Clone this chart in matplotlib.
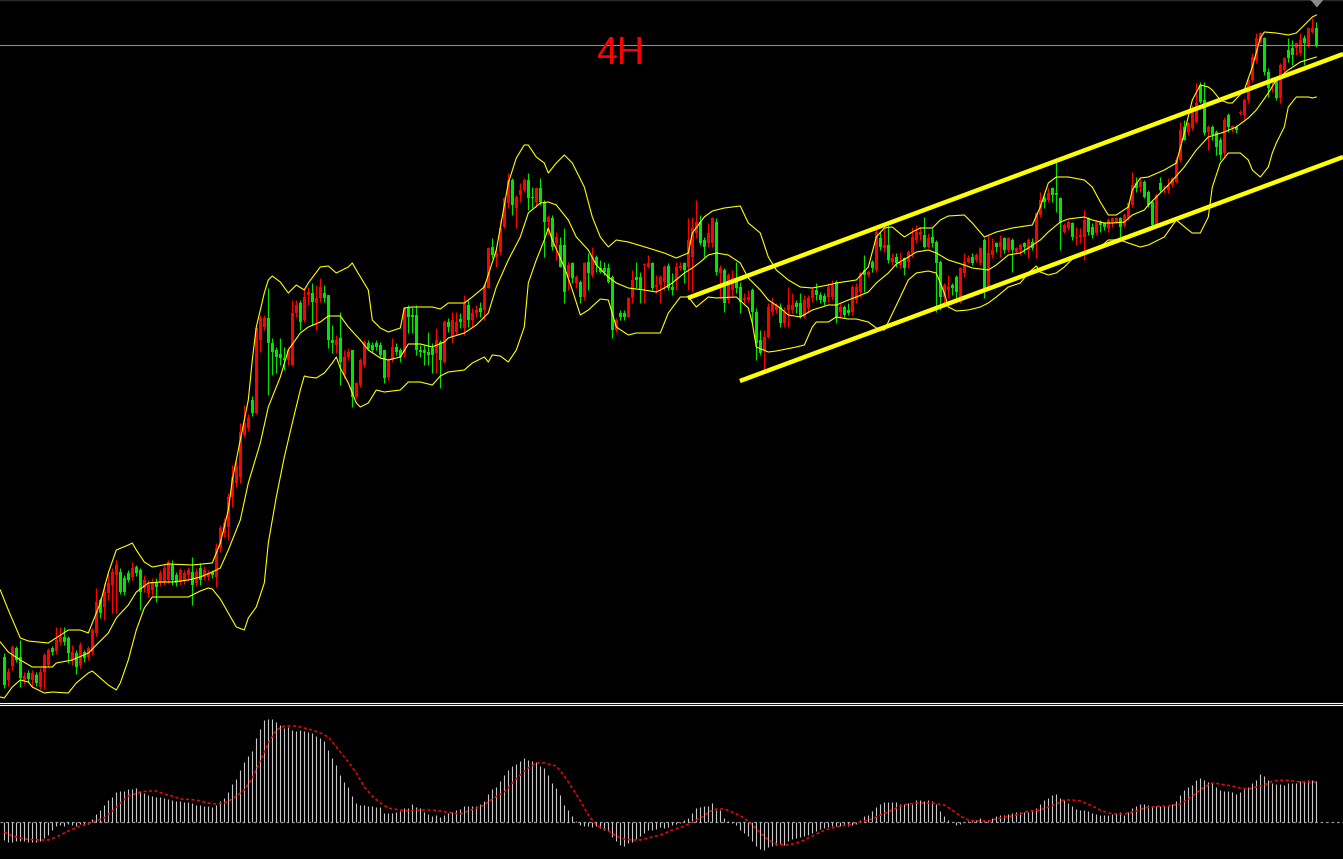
"""
4H candlestick chart: Bollinger bands, a hand drawn rising channel and a MACD panel.
"""
from __future__ import annotations

import matplotlib

matplotlib.use("Agg")
import matplotlib.pyplot as plt
import numpy as np

W, H = 1343, 859

# candles, one value per 4H bar (arbitrary price points)
OPEN = [
    343, 320, 334, 352, 343, 320, 327, 320, 325, 313,
    328, 335, 352, 349, 358, 363, 362, 340, 347, 335,
    348, 343, 348, 367, 400, 393, 407, 415, 425, 428,
    422, 427, 423, 433, 430, 412, 407, 410, 418, 417,
    418, 420, 435, 425, 418, 420, 425, 428, 417, 432,
    423, 423, 428, 423, 452, 467, 473, 503, 517, 523,
    565, 572, 600, 587, 660, 673, 682, 657, 650, 646,
    642, 640, 635, 687, 697, 680, 705, 707, 697, 702,
    707, 705, 660, 655, 662, 625, 643, 650, 603, 615,
    635, 657, 655, 657, 655, 650, 623, 640, 653, 650,
    647, 692, 685, 685, 650, 650, 648, 652, 647, 658,
    638, 678, 663, 668, 681, 672, 695, 680, 687, 692,
    690, 712, 753, 743, 748, 773, 797, 820, 792, 805,
    810, 820, 803, 798, 812, 797, 778, 782, 757, 755,
    755, 723, 737, 717, 718, 703, 738, 725, 743, 732,
    732, 732, 723, 670, 687, 687, 683, 702, 723, 723,
    735, 733, 737, 713, 715, 718, 734, 713, 720, 732,
    737, 733, 743, 767, 778, 760, 757, 757, 778, 727,
    730, 700, 710, 720, 713, 700, 700, 710, 688, 660,
    650, 663, 688, 690, 693, 677, 690, 690, 697, 697,
    683, 692, 702, 710, 705, 704, 703, 703, 718, 688,
    693, 690, 688, 700, 708, 730, 725, 738, 730, 762,
    752, 755, 738, 743, 735, 742, 738, 747, 760, 765,
    765, 753, 763, 758, 738, 703, 710, 715, 723, 703,
    727, 738, 743, 740, 737, 760, 712, 745, 757, 753,
    762, 750, 760, 748, 750, 757, 750, 758, 758, 785,
    802, 800, 812, 807, 802, 768, 772, 777, 762, 763,
    763, 782, 773, 767, 778, 777, 772, 778, 778, 782,
    775, 782, 795, 817, 813, 818, 808, 798, 775, 817,
    812, 810, 815, 818, 840, 873, 868, 872, 878, 915,
    900, 868, 873, 868, 860, 847, 885, 872, 873, 887,
    885, 900, 920, 940, 958, 962, 928, 917, 922, 902,
    930, 950, 952, 952, 947, 962, 955, 968, 972,
]
HIGH = [
    347, 332, 355, 354, 360, 328, 330, 330, 328, 332,
    347, 352, 354, 373, 373, 373, 364, 355, 350, 358,
    350, 354, 372, 412, 402, 417, 427, 432, 440, 432,
    425, 430, 438, 435, 432, 425, 420, 422, 422, 430,
    435, 440, 440, 428, 432, 430, 433, 443, 432, 437,
    434, 430, 430, 457, 475, 482, 507, 535, 540, 577,
    595, 586, 604, 673, 685, 685, 712, 662, 653, 662,
    653, 653, 700, 700, 700, 712, 713, 717, 715, 722,
    715, 705, 675, 665, 688, 650, 652, 650, 618, 642,
    660, 660, 658, 660, 658, 650, 642, 662, 657, 652,
    693, 695, 693, 695, 655, 655, 668, 657, 672, 660,
    680, 682, 688, 688, 687, 705, 700, 692, 695, 698,
    717, 753, 762, 750, 780, 803, 827, 822, 805, 817,
    822, 827, 813, 813, 822, 800, 785, 785, 768, 763,
    772, 738, 738, 725, 720, 738, 747, 753, 745, 740,
    738, 737, 725, 682, 690, 690, 703, 730, 738, 728,
    737, 745, 738, 725, 725, 735, 737, 727, 738, 738,
    738, 782, 783, 800, 785, 763, 777, 783, 782, 735,
    732, 727, 730, 738, 718, 707, 710, 712, 692, 670,
    670, 697, 703, 697, 697, 693, 713, 707, 700, 707,
    705, 705, 713, 717, 708, 707, 717, 720, 720, 697,
    695, 697, 715, 717, 728, 745, 730, 740, 772, 768,
    773, 775, 747, 747, 748, 743, 750, 773, 775, 773,
    783, 767, 772, 760, 740, 717, 725, 717, 725, 733,
    747, 745, 747, 747, 753, 762, 765, 762, 758, 765,
    763, 763, 762, 753, 757, 758, 762, 762, 788, 808,
    805, 812, 813, 838, 803, 777, 780, 778, 773, 772,
    790, 783, 777, 780, 780, 778, 782, 783, 783, 783,
    787, 798, 828, 823, 822, 820, 810, 800, 807, 823,
    815, 822, 823, 843, 878, 880, 878, 895, 917, 918,
    918, 875, 875, 870, 863, 883, 887, 875, 875, 890,
    902, 923, 947, 967, 968, 963, 932, 923, 923, 937,
    943, 962, 960, 958, 967, 965, 973, 982, 978,
]
LOW = [
    312, 314, 330, 338, 313, 316, 318, 313, 314, 311,
    311, 333, 345, 346, 355, 355, 337, 335, 326, 332,
    338, 340, 345, 364, 382, 380, 400, 387, 387, 406,
    405, 418, 420, 424, 390, 408, 403, 405, 398, 414,
    415, 417, 415, 414, 415, 416, 420, 395, 414, 415,
    420, 420, 422, 413, 448, 463, 460, 493, 513, 517,
    563, 569, 584, 586, 648, 670, 605, 625, 627, 635,
    630, 635, 634, 683, 670, 678, 695, 675, 670, 698,
    698, 652, 647, 647, 615, 622, 640, 593, 602, 613,
    633, 650, 648, 650, 642, 617, 620, 638, 645, 638,
    643, 667, 667, 645, 643, 635, 635, 627, 627, 612,
    637, 668, 657, 665, 672, 665, 673, 673, 683, 683,
    680, 712, 742, 733, 745, 772, 792, 785, 772, 798,
    808, 790, 792, 793, 795, 743, 765, 750, 740, 733,
    697, 710, 717, 712, 697, 700, 710, 723, 728, 727,
    725, 717, 662, 668, 680, 680, 683, 697, 712, 697,
    697, 732, 710, 707, 697, 710, 710, 705, 710, 730,
    717, 710, 708, 762, 755, 743, 753, 753, 725, 702,
    688, 697, 703, 707, 687, 697, 698, 677, 640, 645,
    628, 662, 685, 687, 673, 673, 673, 687, 687, 682,
    682, 688, 698, 700, 697, 695, 698, 700, 677, 682,
    683, 685, 685, 697, 703, 708, 723, 728, 728, 750,
    748, 737, 735, 733, 732, 725, 732, 743, 757, 760,
    752, 752, 753, 688, 690, 697, 702, 705, 702, 697,
    723, 737, 735, 738, 735, 702, 712, 742, 748, 743,
    747, 748, 728, 747, 745, 747, 742, 750, 742, 783,
    792, 798, 798, 788, 750, 767, 770, 760, 755, 757,
    740, 765, 762, 765, 768, 770, 768, 773, 777, 763,
    773, 780, 793, 808, 808, 802, 793, 773, 773, 808,
    807, 807, 813, 817, 838, 860, 865, 870, 877, 897,
    865, 850, 860, 845, 840, 843, 868, 868, 867, 885,
    880, 897, 918, 937, 957, 925, 903, 908, 900, 897,
    925, 938, 935, 945, 945, 935, 953, 967, 953,
]
CLOSE = [
    315, 328, 353, 340, 322, 324, 321, 327, 317, 328,
    345, 350, 348, 360, 363, 358, 347, 348, 333, 355,
    342, 352, 370, 398, 387, 408, 417, 428, 435, 408,
    408, 420, 432, 427, 408, 420, 415, 418, 413, 427,
    432, 438, 420, 417, 430, 427, 430, 415, 428, 420,
    430, 427, 425, 452, 472, 477, 503, 523, 533, 568,
    577, 582, 587, 672, 682, 682, 657, 648, 643, 642,
    640, 650, 687, 695, 678, 703, 708, 698, 702, 713,
    702, 660, 657, 660, 638, 643, 648, 603, 617, 640,
    658, 652, 650, 653, 645, 622, 640, 653, 648, 643,
    692, 683, 683, 650, 648, 647, 645, 645, 660, 640,
    678, 673, 680, 678, 678, 697, 680, 687, 690, 688,
    715, 752, 745, 747, 772, 802, 820, 795, 803, 810,
    820, 802, 802, 812, 798, 778, 783, 753, 763, 733,
    708, 735, 722, 723, 703, 737, 727, 743, 735, 728,
    728, 718, 670, 680, 683, 683, 702, 720, 720, 710,
    736, 737, 712, 715, 723, 733, 712, 710, 733, 734,
    730, 760, 772, 778, 757, 753, 767, 782, 728, 732,
    697, 725, 722, 712, 698, 702, 703, 688, 657, 647,
    663, 693, 697, 695, 677, 688, 695, 695, 693, 683,
    700, 702, 710, 705, 700, 698, 713, 715, 683, 693,
    685, 687, 713, 713, 727, 725, 728, 732, 768, 753,
    755, 740, 742, 737, 738, 732, 748, 763, 768, 768,
    753, 762, 757, 737, 703, 715, 713, 712, 708, 732,
    738, 742, 737, 745, 752, 712, 747, 750, 753, 758,
    750, 762, 750, 752, 755, 753, 760, 752, 787, 800,
    798, 807, 805, 805, 777, 775, 778, 763, 763, 765,
    780, 768, 765, 778, 775, 773, 780, 782, 782, 773,
    785, 797, 815, 812, 818, 803, 795, 775, 805, 810,
    813, 815, 822, 840, 870, 860, 877, 890, 897, 898,
    867, 873, 865, 853, 845, 880, 873, 874, 870, 888,
    900, 920, 943, 962, 967, 928, 912, 922, 902, 935,
    942, 942, 945, 957, 960, 957, 972, 972, 955,
]

# Bollinger bands read at (bar, price) points
UPPER_BAND = [
    (-1, 410), (1, 390), (4, 362), (6, 359), (11, 357), (16, 370), (19, 370), (21, 367),
    (24, 397), (26, 427), (28, 450), (31, 455), (32, 457), (33, 450), (35, 438), (37, 433),
    (41, 436), (47, 435), (52, 437), (54, 457), (56, 490), (57, 520), (59, 560), (61, 600),
    (62, 640), (63, 673), (65, 707), (66, 720), (67, 724), (69, 718), (71, 707), (73, 715),
    (75, 710), (76, 717), (79, 733), (81, 734), (83, 727), (86, 733), (87, 737), (88, 730),
    (91, 710), (92, 680), (94, 672), (96, 668), (99, 672), (100, 692), (102, 693), (107, 693),
    (109, 691), (111, 697), (115, 697), (117, 703), (120, 713), (123, 750), (126, 817), (128, 842),
    (130, 855), (131, 855), (133, 843), (135, 837), (136, 827), (138, 837), (140, 845), (142, 837),
    (145, 813), (147, 783), (149, 763), (151, 753), (153, 760), (156, 758), (161, 752), (165, 747),
    (168, 742), (171, 747), (172, 767), (175, 783), (177, 789), (180, 792), (184, 794), (186, 777),
    (189, 767), (191, 743), (193, 730), (196, 720), (199, 713), (202, 712), (206, 715), (208, 717),
    (213, 720), (216, 733), (218, 763), (220, 772), (222, 773), (225, 763), (227, 768), (229, 772),
    (232, 772), (234, 780), (236, 784), (240, 785), (242, 777), (245, 763), (248, 768), (252, 772),
    (257, 775), (259, 793), (261, 817), (263, 823), (266, 823), (270, 820), (272, 813), (274, 798),
    (276, 785), (278, 785), (281, 793), (282, 810), (284, 822), (286, 823), (290, 830), (293, 837),
    (295, 867), (297, 900), (299, 915), (301, 913), (302, 910), (304, 900), (306, 897), (307, 897),
    (310, 910), (312, 933), (314, 962), (315, 968), (318, 967), (321, 965), (323, 967), (325, 975),
    (327, 983), (328, 985),
]
MIDDLE_BAND = [
    (-1, 358), (1, 348), (4, 340), (7, 333), (12, 333), (13, 337), (17, 340), (21, 347),
    (23, 355), (26, 367), (28, 382), (31, 395), (33, 408), (36, 417), (39, 418), (42, 418),
    (46, 420), (49, 423), (52, 428), (54, 432), (56, 450), (59, 480), (61, 517), (64, 557),
    (66, 593), (69, 623), (71, 650), (74, 667), (76, 673), (79, 678), (81, 684), (84, 684),
    (86, 673), (89, 660), (91, 650), (94, 642), (96, 640), (99, 643), (101, 656), (104, 656),
    (107, 653), (110, 658), (111, 662), (115, 667), (118, 675), (121, 687), (123, 713), (126, 740),
    (129, 763), (131, 787), (134, 797), (136, 798), (138, 795), (141, 780), (143, 763), (146, 750),
    (148, 735), (151, 723), (153, 717), (156, 712), (160, 710), (163, 708), (165, 712), (167, 717),
    (170, 727), (172, 732), (174, 738), (176, 745), (178, 747), (181, 745), (184, 737), (186, 722),
    (189, 710), (191, 700), (194, 692), (196, 685), (199, 683), (202, 690), (206, 695), (208, 695),
    (211, 700), (213, 703), (216, 708), (218, 717), (221, 727), (223, 736), (226, 743), (228, 748),
    (231, 750), (233, 747), (236, 740), (240, 735), (242, 732), (246, 730), (248, 735), (251, 745),
    (254, 747), (256, 752), (259, 760), (261, 768), (264, 778), (266, 781), (270, 783), (272, 780),
    (275, 777), (277, 777), (280, 778), (282, 785), (285, 790), (286, 795), (291, 815), (295, 833),
    (298, 850), (301, 863), (305, 868), (308, 873), (311, 882), (313, 890), (316, 907), (318, 920),
    (321, 930), (324, 938), (328, 943),
]
LOWER_BAND = [
    (-1, 303), (0, 302), (2, 313), (4, 320), (6, 318), (7, 313), (10, 307), (12, 308),
    (16, 307), (18, 317), (21, 327), (22, 329), (24, 322), (26, 315), (28, 310), (29, 317),
    (31, 340), (33, 370), (35, 392), (37, 403), (41, 403), (46, 403), (49, 409), (51, 412),
    (52, 411), (54, 401), (56, 387), (58, 373), (60, 370), (61, 382), (63, 393), (65, 417),
    (66, 457), (68, 503), (70, 543), (72, 577), (74, 610), (75, 624), (76, 623), (78, 622),
    (80, 627), (82, 637), (83, 643), (84, 632), (86, 617), (88, 597), (89, 593), (91, 597),
    (93, 610), (95, 608), (99, 610), (101, 618), (104, 618), (107, 615), (109, 624), (111, 628),
    (115, 630), (117, 637), (120, 643), (121, 638), (122, 645), (124, 644), (126, 638), (128, 650),
    (130, 673), (131, 717), (133, 740), (135, 760), (136, 772), (137, 760), (140, 733), (142, 710),
    (144, 685), (146, 690), (149, 701), (151, 700), (153, 673), (156, 665), (158, 667), (164, 667),
    (166, 687), (169, 703), (171, 703), (173, 693), (176, 703), (178, 702), (183, 703), (186, 692),
    (187, 677), (188, 653), (191, 648), (193, 649), (198, 653), (200, 655), (202, 673), (203, 678),
    (206, 678), (208, 683), (211, 681), (213, 681), (216, 678), (218, 672), (220, 670), (221, 678),
    (224, 703), (226, 720), (228, 727), (231, 729), (233, 727), (235, 707), (236, 693), (238, 689),
    (241, 690), (244, 693), (246, 697), (248, 703), (251, 713), (254, 717), (256, 727), (258, 734),
    (259, 728), (261, 725), (263, 727), (265, 733), (268, 745), (271, 747), (274, 753), (276, 760),
    (279, 760), (281, 757), (284, 753), (286, 755), (290, 763), (293, 780), (296, 770), (297, 767),
    (299, 767), (301, 783), (302, 813), (304, 837), (306, 847), (309, 847), (311, 840), (312, 830),
    (314, 823), (316, 833), (317, 847), (318, 857), (320, 873), (321, 893), (323, 903), (326, 903),
    (327, 902), (328, 903),
]

# hand drawn channel, (bar, price) end points
CHANNEL_TOP = [(170.9, 702), (334.7, 946)]
CHANNEL_BOTTOM = [(183.9, 619), (334.7, 843)]
LAST_PRICE = 955
LABEL = "4H"
LABEL_AT = (153.9, 946)

# MACD histogram, one per bar, and its signal line
HIST = [
    -18, -20, -20, -19, -19, -19, -20, -20, -20, -19,
    -16, -13, -8, -4, -3, -4, -2, -3, -4, -2,
    -3, -2, 3, 8, 12, 17, 22, 25, 30, 31,
    31, 33, 33, 34, 31, 29, 27, 26, 25, 25,
    24, 23, 22, 21, 21, 20, 20, 19, 17, 17,
    16, 16, 15, 17, 21, 24, 30, 38, 43, 52,
    60, 66, 71, 84, 93, 102, 103, 103, 100, 97,
    94, 95, 92, 91, 92, 91, 90, 89, 86, 84,
    81, 72, 64, 57, 47, 40, 35, 26, 19, 17,
    17, 16, 16, 15, 15, 9, 9, 9, 10, 11,
    14, 14, 18, 15, 14, 10, 8, 6, 7, 5,
    7, 9, 10, 12, 13, 16, 16, 16, 16, 18,
    21, 28, 33, 35, 41, 47, 52, 56, 58, 61,
    64, 62, 61, 60, 56, 54, 47, 39, 34, 27,
    17, 12, 6, 1, -3, -4, -4, -5, -4, -6,
    -8, -9, -15, -19, -23, -24, -21, -20, -17, -14,
    -11, -8, -8, -7, -5, -6, -5, -3, -2, -1,
    2, 4, 9, 14, 15, 16, 16, 19, 12, 12,
    4, 1, -1, -3, -8, -11, -14, -19, -24, -27,
    -28, -25, -24, -23, -22, -23, -19, -17, -16, -15,
    -14, -13, -11, -9, -7, -6, -5, -4, -4, -4,
    -3, -4, -3, -2, 2, 6, 7, 11, 15, 18,
    20, 20, 20, 20, 18, 18, 19, 18, 22, 22,
    21, 22, 21, 18, 11, 6, 2, 0, -3, -2,
    0, 1, 2, 2, 4, 2, 2, 4, 6, 7,
    7, 8, 9, 10, 10, 10, 10, 11, 14, 18,
    22, 24, 27, 28, 24, 22, 19, 16, 13, 12,
    12, 11, 9, 8, 7, 7, 7, 8, 9, 10,
    7, 10, 14, 16, 18, 18, 17, 16, 16, 16,
    16, 16, 18, 21, 27, 32, 35, 37, 42, 44,
    42, 40, 39, 35, 32, 31, 31, 30, 28, 30,
    33, 35, 39, 42, 48, 46, 42, 39, 38, 38,
    37, 39, 39, 39, 41, 41, 42, 42, 41,
]
SIGNAL_IDX = [
    0, 2, 5, 9, 11, 13, 16, 19, 22, 25, 27, 29, 31, 34, 36, 38, 40, 42, 44, 48,
    51, 53, 55, 57, 60, 62, 64, 66, 68, 70, 73, 75, 77, 79, 81, 83, 86, 88, 90, 92,
    94, 96, 99, 101, 103, 107, 109, 112, 114, 116, 118, 120, 122, 125, 127, 129, 131, 133, 135, 138,
    140, 142, 144, 146, 148, 151, 153, 155, 157, 159, 161, 164, 167, 170, 173, 175, 176, 178, 180, 182,
    185, 187, 189, 191, 193, 196, 198, 200, 202, 204, 206, 209, 211, 213, 215, 217, 219, 222, 224, 226,
    228, 232, 235, 237, 239, 241, 243, 246, 248, 250, 252, 254, 256, 259, 261, 263, 265, 267, 269, 272,
    274, 276, 278, 280, 283, 285, 287, 289, 291, 294, 296, 298, 300, 302, 304, 307, 309, 311, 313, 315,
    317, 320, 322, 324, 326, 328,
]
SIGNAL = [
    -10, -14, -17, -18, -18, -15, -9, -4, 0, 4, 11, 19, 26, 30, 31, 31, 28, 26, 23, 22,
    19, 18, 19, 23, 32, 44, 61, 79, 92, 96, 96, 94, 92, 89, 85, 75, 60, 49, 35, 26,
    19, 14, 12, 11, 12, 12, 11, 9, 8, 11, 14, 17, 23, 30, 39, 47, 54, 59, 59, 56,
    46, 34, 21, 7, -3, -9, -14, -17, -18, -18, -16, -13, -8, -4, 2, 6, 10, 13, 13, 10,
    4, -3, -11, -18, -22, -23, -21, -18, -14, -10, -7, -4, -3, -1, 1, 3, 7, 12, 16, 18,
    19, 19, 17, 12, 6, 2, 1, 1, 3, 5, 6, 8, 11, 12, 15, 18, 22, 22, 21, 16,
    12, 9, 8, 8, 11, 14, 15, 16, 16, 18, 23, 29, 35, 39, 38, 36, 34, 33, 35, 37,
    41, 42, 41, 40, 40, 40,
]

UP_COLOR = "#ff0000"
DOWN_COLOR = "#00e600"
BAND_COLOR = "#ffff00"
XLIM = (-1.075, 334.675)


def draw_price(ax) -> None:
    o, h, l, c = (np.asarray(a, dtype=float) for a in (OPEN, HIGH, LOW, CLOSE))
    x = np.arange(len(o))
    colors = np.where(c >= o, UP_COLOR, DOWN_COLOR)
    ax.vlines(x, l, h, colors=colors, linewidth=0.8)
    body = np.maximum(np.abs(c - o), 1.2)
    ax.bar(x, body, bottom=np.minimum(o, c), width=0.72, color=colors, linewidth=0)

    for band in (UPPER_BAND, MIDDLE_BAND, LOWER_BAND):
        bx, by = zip(*band)
        ax.plot(bx, by, color=BAND_COLOR, linewidth=0.8)

    for line in (CHANNEL_TOP, CHANNEL_BOTTOM):
        lx, ly = zip(*line)
        ax.plot(lx, ly, color=BAND_COLOR, linewidth=3.2, solid_capstyle="butt")

    ax.axhline(LAST_PRICE, color="#8c8c8c", linewidth=0.8)
    # chart shift marker above the last bar
    ax.scatter([len(o) - 1], [997.5], marker=[(-1, 0.6), (1, 0.6), (0, -0.6)],
               s=70, color="#8c8c8c", clip_on=False, zorder=5)
    ax.text(*LABEL_AT, LABEL, color="#ff0000", fontsize=27, ha="center", va="center",
            family=["Liberation Sans", "DejaVu Sans"])


def draw_macd(ax) -> None:
    x = np.arange(len(HIST))
    ax.axhline(0, color="#8796aa", linewidth=0.9, linestyle=(0, (2.2, 2.2)))
    ax.vlines(x, 0, HIST, colors="#c8c8c8", linewidth=0.8)
    ax.plot(SIGNAL_IDX, SIGNAL, color="#ff0000", linewidth=1.1, linestyle=(0, (2, 1.6)))


def main() -> None:
    fig = plt.figure(figsize=(W / 100, H / 100), dpi=100, facecolor="black")
    ax = fig.add_axes([0, 156 / H, 1, 703 / H], facecolor="black")
    ax2 = fig.add_axes([0, 0, 1, 154 / H], facecolor="black")

    draw_price(ax)
    draw_macd(ax2)

    ax.set_xlim(*XLIM)
    ax.set_ylim(297, 1000)
    ax2.set_xlim(*XLIM)
    ax2.set_ylim(-37, 117)

    for a in (ax, ax2):
        a.set_xticks([])
        a.set_yticks([])
        for s in a.spines.values():
            s.set_visible(False)
    ax.spines["top"].set_visible(True)
    ax.spines["top"].set_color("#2a2a2a")
    ax.spines["top"].set_linewidth(1.0)
    ax.spines["bottom"].set_visible(True)
    ax.spines["bottom"].set_color("white")
    ax.spines["bottom"].set_linewidth(0.8)
    ax2.spines["top"].set_visible(True)
    ax2.spines["top"].set_color("white")
    ax2.spines["top"].set_linewidth(0.8)

    fig.savefig("out.png", dpi=100, facecolor="black")
    plt.close(fig)


if __name__ == "__main__":
    main()
